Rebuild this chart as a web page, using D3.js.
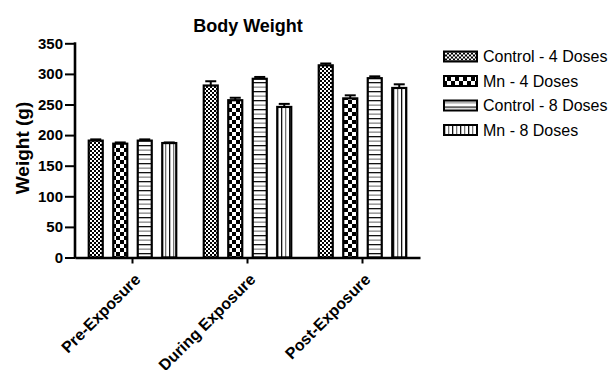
<!DOCTYPE html>
<html>
<head>
<meta charset="utf-8">
<script src="https://cdn.jsdelivr.net/npm/d3@7"></script>
<style>
  html, body { margin: 0; padding: 0; background: #fff; }
  svg { display: block; font-family: "Liberation Sans", Arial, sans-serif; }
</style>
</head>
<body>
<svg id="chart" width="609" height="370"></svg>
<script>
// Body weight by exposure phase and dosing group
const phases = ["Pre-Exposure", "During Exposure", "Post-Exposure"];
const groups = ["Control - 4 Doses", "Mn - 4 Doses", "Control - 8 Doses", "Mn - 8 Doses"];
const control4 = [191, 281, 314];
const mn4 = [186, 257, 260];
const control8 = [191, 292, 293];
const mn8 = [187, 246, 277];
const control4Err = [2, 7, 3];
const mn4Err = [2, 4, 5];
const control8Err = [2, 3, 3];
const mn8Err = [1, 5, 6];
const yTicks = [0, 50, 100, 150, 200, 250, 300, 350];

const seriesValues = [control4, mn4, control8, mn8];
const seriesErrs = [control4Err, mn4Err, control8Err, mn8Err];
const patternIds = ["pFine", "pCheck", "pHoriz", "pVert"];

const svg = d3.select("#chart");
const defs = svg.append("defs");

// Fine checkerboard
const pf = defs.append("pattern").attr("id", "pFine").attr("patternUnits", "userSpaceOnUse")
  .attr("width", 4).attr("height", 4);
pf.append("rect").attr("width", 4).attr("height", 4).attr("fill", "#fff");
pf.append("rect").attr("width", 2).attr("height", 2).attr("fill", "#000");
pf.append("rect").attr("x", 2).attr("y", 2).attr("width", 2).attr("height", 2).attr("fill", "#000");

// Coarse checkerboard
const pc = defs.append("pattern").attr("id", "pCheck").attr("patternUnits", "userSpaceOnUse")
  .attr("width", 8).attr("height", 8);
pc.append("rect").attr("width", 8).attr("height", 8).attr("fill", "#fff");
pc.append("rect").attr("width", 4).attr("height", 4).attr("fill", "#000");
pc.append("rect").attr("x", 4).attr("y", 4).attr("width", 4).attr("height", 4).attr("fill", "#000");

// Horizontal hatching
const ph = defs.append("pattern").attr("id", "pHoriz").attr("patternUnits", "userSpaceOnUse")
  .attr("width", 8).attr("height", 9);
ph.append("rect").attr("width", 8).attr("height", 9).attr("fill", "#fff");
ph.append("rect").attr("y", 1).attr("width", 8).attr("height", 1.3).attr("fill", "#111");
ph.append("rect").attr("y", 5.5).attr("width", 8).attr("height", 1.3).attr("fill", "#888");

// Vertical hatching
const pv = defs.append("pattern").attr("id", "pVert").attr("patternUnits", "userSpaceOnUse")
  .attr("width", 8).attr("height", 8);
pv.append("rect").attr("width", 8).attr("height", 8).attr("fill", "#fff");
pv.append("rect").attr("x", 1).attr("width", 1.3).attr("height", 8).attr("fill", "#111");
pv.append("rect").attr("x", 5).attr("width", 1.3).attr("height", 8).attr("fill", "#777");

// Scales
const x0 = d3.scaleBand().domain(phases).range([75, 420]).paddingInner(0).paddingOuter(0);
const x1 = d3.scaleBand().domain(d3.range(groups.length)).range([-44.75, 44.75])
  .paddingInner(0.347).paddingOuter(0);
const y = d3.scaleLinear().domain([0, 350]).range([257.5, 43.3]);

// Bars
const barData = [];
phases.forEach((p, i) => {
  seriesValues.forEach((vals, s) => {
    barData.push({ phase: p, s, v: vals[i], e: seriesErrs[s][i] });
  });
});

const barG = svg.append("g");
const barX = d => x0(d.phase) + x0.bandwidth() / 2 + x1(d.s);

// Error bars (drawn first so the bar outline covers the stem base)
const errG = svg.append("g").attr("stroke", "#000").attr("stroke-width", 2);
barData.forEach(d => {
  const cx = barX(d) + x1.bandwidth() / 2;
  errG.append("line").attr("x1", cx).attr("x2", cx).attr("y1", y(d.v)).attr("y2", y(d.v + d.e));
  errG.append("line").attr("x1", cx - 5.5).attr("x2", cx + 5.5).attr("y1", y(d.v + d.e)).attr("y2", y(d.v + d.e));
});

barG.selectAll("rect").data(barData).join("rect")
  .attr("x", d => barX(d) + 1)
  .attr("y", d => y(d.v))
  .attr("width", x1.bandwidth() - 2)
  .attr("height", d => y(0) - y(d.v))
  .attr("fill", d => `url(#${patternIds[d.s]})`)
  .attr("stroke", "#000")
  .attr("stroke-width", 2.2);

// Y axis
const yAxis = svg.append("g").attr("transform", "translate(75,0)")
  .call(d3.axisLeft(y).tickValues(yTicks).tickSize(10).tickPadding(2).tickFormat(d3.format("d")));
yAxis.select(".domain").attr("stroke-width", 2.6).attr("d", `M0,${y(350) - 1}V${y(0) + 1}`);
yAxis.selectAll(".tick line").attr("stroke-width", 2);
yAxis.selectAll(".tick text").attr("font-size", 15).attr("font-weight", "bold").attr("fill", "#000")
  .attr("font-family", "'Liberation Sans', Arial, sans-serif");

// X axis
const xAxis = svg.append("g").attr("transform", `translate(0,${y(0)})`)
  .call(d3.axisBottom(x0).tickSize(6).tickSizeOuter(0).tickPadding(4));
xAxis.select(".domain").attr("stroke-width", 2.6);
xAxis.selectAll(".tick line").attr("stroke-width", 2);
xAxis.selectAll(".tick text")
  .attr("font-size", 16).attr("font-weight", "bold").attr("fill", "#000")
  .attr("font-family", "'Liberation Sans', Arial, sans-serif")
  .attr("text-anchor", "end")
  .attr("dy", 0)
  .attr("transform", "translate(9,23) rotate(-45)")
  .attr("y", 0).attr("x", 0);

// Title
svg.append("text").attr("x", 248).attr("y", 32).attr("text-anchor", "middle")
  .attr("font-size", 18).attr("font-weight", "bold").text("Body Weight");

// Y axis title
svg.append("text").attr("transform", "translate(29,148) rotate(-90)").attr("text-anchor", "middle")
  .attr("font-size", 19).attr("font-weight", "bold").text("Weight (g)");

// Legend
const legend = svg.append("g").attr("transform", "translate(443,56.5)");
groups.forEach((g, i) => {
  const row = legend.append("g").attr("transform", `translate(0,${i * 24.5})`);
  row.append("rect").attr("x", 1).attr("y", -5).attr("width", 33).attr("height", 10)
    .attr("fill", `url(#${patternIds[i]})`).attr("stroke", "#000").attr("stroke-width", 2);
  row.append("text").attr("x", 40).attr("y", 5.5).attr("font-size", 16).text(g);
});
</script>
</body>
</html>
